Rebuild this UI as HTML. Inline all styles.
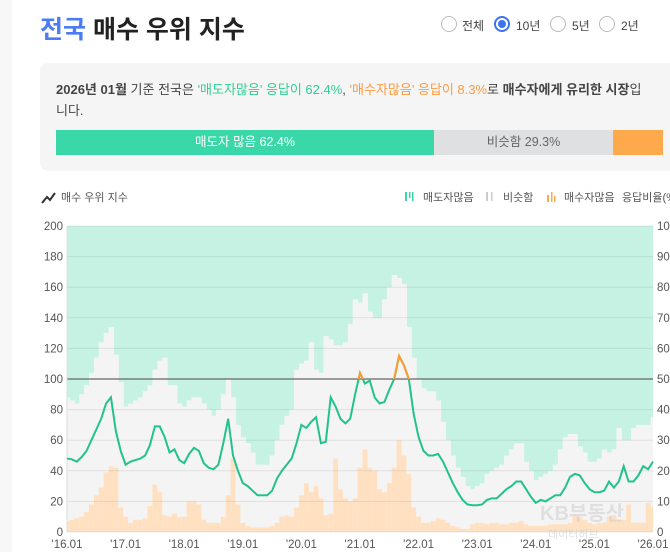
<!DOCTYPE html>
<html><head><meta charset="utf-8">
<style>
body{margin:0;width:670px;height:552px;overflow:hidden;background:#fff;font-family:"Liberation Sans","Noto Sans CJK KR",sans-serif;position:relative}
.abs{position:absolute}
.radio{position:absolute;top:16px;width:16px;height:16px;border:1px solid #bbb;border-radius:50%;box-sizing:border-box;background:#fff}
.rl{position:absolute;top:17px;font-size:12px;color:#444}
</style></head><body>
<div class="abs" style="left:0;top:0;width:12px;height:552px;background:#f7f7f8"></div>
<div class="abs" style="left:40px;top:10px;font-size:25px;font-weight:bold;color:#222"><span style="color:#4b7bf5">전국</span> 매수 우위 지수</div>
<div class="radio" style="left:441px"></div><div class="rl" style="left:462px">전체</div>
<div class="radio" style="left:494px;border:2px solid #3b73f0"><div style="position:absolute;left:2px;top:2px;width:8px;height:8px;border-radius:50%;background:#3b73f0"></div></div><div class="rl" style="left:516px">10년</div>
<div class="radio" style="left:550px"></div><div class="rl" style="left:572px">5년</div>
<div class="radio" style="left:599px"></div><div class="rl" style="left:621px">2년</div>

<div class="abs" style="left:40px;top:63px;width:650px;height:108px;background:#f5f5f5;border-radius:8px"></div>
<div class="abs" style="left:56px;top:79px;width:590px;font-size:13px;line-height:21px;color:#444;word-break:break-all"><b>2026년 01월</b> 기준 전국은 <span style="color:#2fcf96">'매도자많음' 응답이 62.4%</span>, <span style="color:#ff9a3c">'매수자많음' 응답이 8.3%</span>로 <b>매수자에게 유리한 시장</b>입니다.</div>
<div class="abs" style="left:56px;top:130px;width:378px;height:25px;background:#3ad8a8;color:#fff;font-size:12.5px;line-height:25px;text-align:center">매도자 많음 62.4%</div>
<div class="abs" style="left:434px;top:130px;width:179px;height:25px;background:#dfe0e2;color:#666;font-size:12.5px;line-height:25px;text-align:center">비슷함 29.3%</div>
<div class="abs" style="left:613px;top:130px;width:50px;height:25px;background:#ffa94d"></div>

<svg class="abs" style="left:0;top:0" width="670" height="552" id="chart">
<g><polyline points="42,203 47,197 50,200 55,193" fill="none" stroke="#333" stroke-width="2"/><text x="61" y="201" font-size="11" fill="#555">매수 우위 지수</text></g>
<g><rect x="405" y="192" width="2" height="9" fill="#3ad8a8"/><rect x="409" y="192" width="1.5" height="6" fill="#3ad8a8"/><rect x="412" y="192" width="1.5" height="9" fill="#3ad8a8"/><text x="423" y="201" font-size="11" fill="#555">매도자많음</text></g>
<g><rect x="486" y="192" width="2" height="9" fill="#ccc"/><rect x="491" y="192" width="1.5" height="9" fill="#ccc"/><text x="503" y="201" font-size="11" fill="#555">비슷함</text></g>
<g><rect x="547" y="195" width="2" height="7" fill="#ffa94d"/><rect x="551" y="192" width="1.5" height="10" fill="#ffa94d"/><rect x="554" y="196" width="1.5" height="6" fill="#ffa94d"/><text x="564" y="201" font-size="11" fill="#555">매수자많음</text></g>
<text x="622" y="201" font-size="11" fill="#555">응답비율(%)</text>
<defs><clipPath id="plotclip"><rect x="67" y="226" width="586" height="306"/></clipPath><clipPath id="above"><rect x="67" y="200" width="586" height="179"/></clipPath></defs>
<g id="bars" clip-path="url(#plotclip)"></g>
<g id="grid"></g>
<g id="line"></g>
<text x="540" y="520" font-size="20" fill="#ccc" opacity="0.5" font-weight="bold">KB부동산</text>
<text x="548" y="538" font-size="11" fill="#ccc" opacity="0.6">데이터허브</text>
</svg>
<script>
const months=["'16.01","'17.01","'18.01","'19.01","'20.01","'21.01","'22.01","'23.01","'24.01","'25.01","'26.01"];
const leftTicks=[0,20,40,60,80,100,120,140,160,180,200];
const rightTicks=[0,10,20,30,40,50,60,70,80,90,100];
const indexVals=[48,47.5,46,49,53,60,67,74,84,88,66,53,
44,46,47,48,50,57,69,69,62,52,54,47,
45,51,55,53,45,42,41,44,58,74,50,40,
32,30,27,24,24,24,27,35,40,44,48,58,
70,68,72,75,58,59,88,82,74,71,74,90,
104,97,99,88,84,85,93,100,115,109,100,77,
62,53,50,50,51,46,39,32,26,21,18,17.5,
17.5,18,21,22,22,25,28,30,33,33,28,23,
19,21,20,22,24,24,29,36,38,37,32,28,
26,26,27,33,29,33,43,33,33,37,43,41,46];
const buyersPct=[3.5,4,4.5,5,6.5,9,12,14.5,19.5,21.5,21,8,
5,3,4,4,4.5,8.5,15.5,13,5.5,5,6,5,
5,10,10,9,4,3,3,3,5,12,24,9,
3,2,1.5,1.5,1.5,1.5,2,3,5,5.5,5,8,
12,16,13,15,11,5.5,6,24,14,11,10,11,
21,27,21,20,14,13,16,21,30,25,19,8,
5,3,3,3.5,4.5,4,3,2,1.5,1,1,2.5,
3,3,2.5,3,3,2.5,2.5,3,3,3.5,2.5,2,
2,2,2,2.5,2.5,2.5,2.5,3,5.5,5,4,3,
2.5,3,3,5,5.5,4,4,9,3,3,3,9.5,8.3];
const sellersPct=[56,57,58,55,52,48,43,38,35,33,42,51,
59,58,57,56,54,52,47,44,43,52,52,58,
59,57,56,56,58,60,62,60,55,50,56,65,
69,71,74,78,78,78,75,70,65,62,60,47,
45,44,38,47,48,36,37,39,39,38,32,24,
25,22,28,30,30,24,20,16,17,19,33,43,
50,53,54,54,57,64,70,75,79,82,85,86,
85,84,81,80,79,78,75,73,71,71,77,80,
83,82,81,80,78,73,69,68,68,72,74,77,
77,76,73,74,73,66,70,70,66,65,65,65,62.4];
const X0=67,X1=653,YT=226,YB=532,N=120;
const sx=i=>X0+(X1-X0)*i/N;
const yL=v=>YB-(YB-YT)*v/200;
const yR=p=>YB-(YB-YT)*p/100;
const NS="http://www.w3.org/2000/svg";
function mk(t,a,p){const e=document.createElementNS(NS,t);for(const k in a)e.setAttribute(k,a[k]);p.appendChild(e);return e;}
const bars=document.getElementById('bars'),grid=document.getElementById('grid'),line=document.getElementById('line');
const w=(X1-X0)/N;
mk('rect',{x:X0,y:YT,width:X1-X0,height:YB-YT,fill:'#c5f2e2'},bars);
indexVals.forEach((_,i)=>{
 const x=sx(i)-w/2;
 const g=mk('rect',{x:x,y:yR(100-sellersPct[i]),width:w+0.6,height:YB-yR(100-sellersPct[i]),fill:'#f4f4f4'},bars);
 
 
 const o=mk('rect',{x:x,y:yR(buyersPct[i]),width:w+0.6,height:YB-yR(buyersPct[i]),fill:'#ffe1c2'},bars);
 
 
});
leftTicks.forEach((v,k)=>{
 const y=yL(v);
 const l=mk('line',{x1:X0,x2:X1,y1:y,y2:y,stroke:v==100?'#666':'rgba(0,0,0,0.08)','stroke-width':v==100?1.2:1},grid);
 
 
 const t=mk('text',{x:63,y:y+4,'font-size':11.5,fill:'#555','text-anchor':'end'},grid);t.textContent=v;
 
 
 const r=mk('text',{x:657,y:y+4,'font-size':11.5,fill:'#555'},grid);r.textContent=rightTicks[k];
 
 
});
mk('line',{x1:X0,x2:X0,y1:YT,y2:YB,stroke:'#ddd'},grid);
months.forEach((m,k)=>{
 const t=mk('text',{x:sx(k*12),y:548,'font-size':11.5,fill:'#555','text-anchor':'middle'},grid);t.textContent=m;
 
 
});
const d=indexVals.map((v,i)=>(i?'L':'M')+sx(i).toFixed(2)+','+yL(v).toFixed(2)).join('');
const p1=mk('path',{d:d,fill:'none',stroke:'#22c38a','stroke-width':2},line);


const p2=mk('path',{d:d,fill:'none',stroke:'#ff9a30','stroke-width':2,'clip-path':'url(#above)'},line);


</script>
</body></html>
